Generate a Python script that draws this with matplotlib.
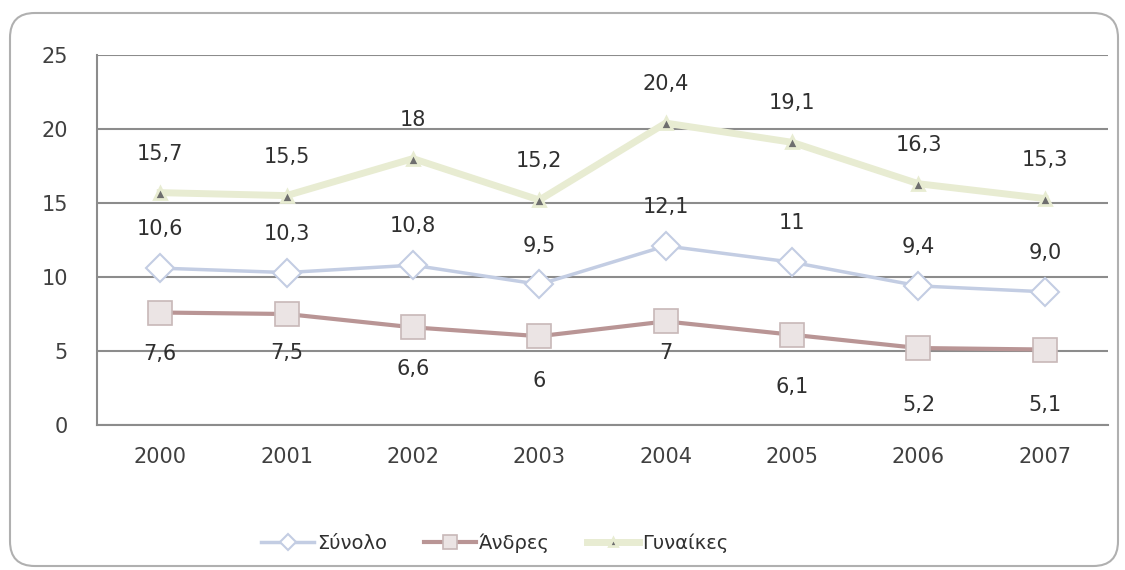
import matplotlib
matplotlib.use("Agg")
import matplotlib.pyplot as plt
from matplotlib.patches import FancyBboxPatch

# ---- data ----
years = ["2000", "2001", "2002", "2003", "2004", "2005", "2006", "2007"]
synolo = [10.6, 10.3, 10.8, 9.5, 12.1, 11.0, 9.4, 9.0]
andres = [7.6, 7.5, 6.6, 6.0, 7.0, 6.1, 5.2, 5.1]
gynaikes = [15.7, 15.5, 18.0, 15.2, 20.4, 19.1, 16.3, 15.3]
synolo_labels = ["10,6", "10,3", "10,8", "9,5", "12,1", "11", "9,4", "9,0"]
andres_labels = ["7,6", "7,5", "6,6", "6", "7", "6,1", "5,2", "5,1"]
gynaikes_labels = ["15,7", "15,5", "18", "15,2", "20,4", "19,1", "16,3", "15,3"]
yticks = [0, 5, 10, 15, 20, 25]
series_names = ["Σύνολο", "Άνδρες", "Γυναίκες"]

# ---- style ----
andres_label_offsets = [-30, -28, -30, -32, -23, -38, -41, -40]  # points

plt.rcParams['font.family'] = ['DejaVu Sans']
fig = plt.figure(figsize=(11.25, 5.7), dpi=100)
fig.patch.set_facecolor("white")

# rounded outer frame
frame = FancyBboxPatch((10/1125, 4/570), 1108/1125, 553/570,
                       boxstyle="round,pad=0,rounding_size=0.022",
                       transform=fig.transFigure, facecolor="white",
                       edgecolor="#b0b0b0", linewidth=1.5, zorder=-5,
                       mutation_aspect=1125/570)
fig.add_artist(frame)

ax = fig.add_axes([97/1125, 1 - 425/570, 1011/1125, 370/570])
ax.set_zorder(2)
ax.set_facecolor("none")
x = list(range(len(years)))

l_syn, = ax.plot(x, synolo, color="#c3cde3", lw=2.5, marker="D", ms=14,
                 mfc="white", mec="#c3cde3", mew=1.5, zorder=3)
l_and, = ax.plot(x, andres, color="#b99595", lw=3, marker="s", ms=17,
                 mfc="#ebe4e4", mec="#c8b8b8", mew=1.2, zorder=3)
l_gyn, = ax.plot(x, gynaikes, color="#e8ecd2", lw=5, marker="^", ms=9,
                 mfc="#6e6e6e", mec="#e8ecd2", mew=2, zorder=3)

lab_kw = dict(ha="center", va="center", fontsize=15, color="#303030",
              textcoords="offset points", zorder=5)
for i in x:
    ax.annotate(gynaikes_labels[i], (i, gynaikes[i]), xytext=(0, 28), **lab_kw)
    ax.annotate(synolo_labels[i], (i, synolo[i]), xytext=(0, 28), **lab_kw)
    ax.annotate(andres_labels[i], (i, andres[i]),
                xytext=(0, andres_label_offsets[i]), **lab_kw)

ax.set_xlim(-0.5, len(years) - 0.5)
ax.set_ylim(0, 25)
ax.set_yticks(yticks)
ax.set_xticks(x)
ax.set_xticklabels(years)
ax.tick_params(axis="both", length=0, labelsize=15, colors="#404040")
ax.tick_params(axis="x", pad=16)
ax.tick_params(axis="y", pad=21)
ax.yaxis.grid(True, color="#8c8c8c", lw=1.5)
ax.set_axisbelow(True)
for s in ["top", "right"]:
    ax.spines[s].set_visible(False)
for s in ["left", "bottom"]:
    ax.spines[s].set_color("#8c8c8c")
    ax.spines[s].set_linewidth(1.5)

fig.legend([l_syn, l_and, l_gyn], series_names, loc="center",
           bbox_to_anchor=(495/1125, 1 - 543/570), ncol=3, frameon=False,
           fontsize=14, handlelength=2.7, columnspacing=1.9, handletextpad=0.15,
           labelcolor="#303030", markerscale=0.6)

fig.savefig("out.png", dpi=100)
